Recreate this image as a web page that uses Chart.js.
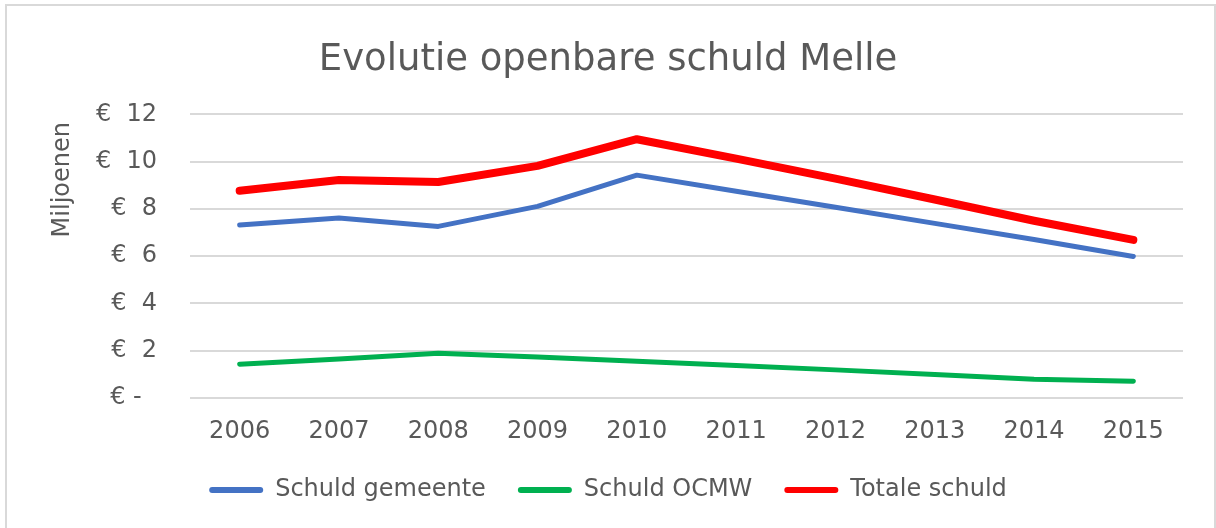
<!DOCTYPE html>
<html>
<head>
<meta charset="utf-8">
<script src="https://cdn.jsdelivr.net/npm/chart.js"></script>
<style>
    html, body { margin: 0; padding: 0; background: #fff; overflow: hidden; }
    #frame {
        position: absolute; left: 5px; top: 4px; width: 1207px; height: 540px;
        border: 2px solid #d9d9d9;
    }
    #wrap { position: absolute; left: 0; top: 0; width: 1216px; height: 528px; }
</style>
</head>
<body>
<div id="frame"></div>
<div id="wrap"><canvas id="chart" width="1216" height="528"></canvas></div>
<script>
// 데이터 (그림에서 읽은 값, 단위: 백만 €)
const years = ['2006', '2007', '2008', '2009', '2010', '2011', '2012', '2013', '2014', '2015'];
const schuldGemeente = [7.32, 7.62, 7.26, 8.11, 9.43, 8.75, 8.07, 7.39, 6.71, 5.99];
const schuldOcmw = [1.43, 1.65, 1.89, 1.73, 1.56, 1.37, 1.19, 0.99, 0.79, 0.71];
const totaleSchuld = [8.77, 9.22, 9.14, 9.82, 10.95, 10.13, 9.28, 8.40, 7.50, 6.69];
const yTicks = [0, 2, 4, 6, 8, 10, 12];

const textColor = '#595959';
const gridColor = '#d9d9d9';
const fontFamily = '"DejaVu Sans", Verdana, sans-serif';

const ctx = document.getElementById('chart').getContext('2d');
new Chart(ctx, {
    type: 'line',
    data: {
        labels: years,
        datasets: [
            { label: 'Schuld gemeente', data: schuldGemeente, borderColor: '#4472C4', backgroundColor: '#4472C4', borderWidth: 5 },
            { label: 'Schuld OCMW', data: schuldOcmw, borderColor: '#00B050', backgroundColor: '#00B050', borderWidth: 5 },
            { label: 'Totale schuld', data: totaleSchuld, borderColor: '#FF0000', backgroundColor: '#FF0000', borderWidth: 8 }
        ]
    },
    options: {
        responsive: false,
        animation: false,
        events: [],
        layout: { padding: { left: 0, right: 0, top: 0, bottom: 16 } },
        elements: {
            point: { radius: 0 },
            line: { tension: 0, borderCapStyle: 'round', borderJoinStyle: 'round' }
        },
        plugins: {
            title: {
                display: true,
                text: 'Evolutie openbare schuld Melle',
                color: textColor,
                font: { family: fontFamily, size: 37, weight: 'normal' },
                padding: { top: 38, bottom: 32 }
            },
            legend: {
                position: 'bottom',
                labels: {
                    color: textColor,
                    font: { family: fontFamily, size: 24 },
                    boxWidth: 54,
                    boxHeight: 6,
                    padding: 32,
                    useBorderRadius: true,
                    borderRadius: 3,
                    generateLabels: (chart) => {
                        const items = Chart.defaults.plugins.legend.labels.generateLabels(chart);
                        items.forEach(it => { it.fillStyle = it.strokeStyle; it.lineWidth = 0; });
                        return items;
                    }
                }
            },
            tooltip: { enabled: false }
        },
        scales: {
            x: {
                offset: true,
                grid: { display: false, drawTicks: false },
                border: { display: false },
                ticks: { color: textColor, font: { family: fontFamily, size: 24 }, padding: 19 },
                afterFit: (scale) => { scale.height = 48; }
            },
            y: {
                min: 0,
                max: 12,
                afterBuildTicks: (scale) => { scale.ticks = yTicks.map(v => ({ value: v })); },
                grid: { color: gridColor, lineWidth: 2, drawTicks: false },
                border: { display: false },
                ticks: {
                    color: textColor,
                    font: { family: fontFamily, size: 24 },
                    padding: 33,
                    callback: (v) => v === 0 ? '€ -  ' : '€  ' + v
                },
                title: {
                    display: true,
                    text: 'Miljoenen ',
                    align: 'end',
                    color: textColor,
                    font: { family: fontFamily, size: 24 },
                    padding: { top: 48, bottom: 0 }
                },
                afterFit: (scale) => { scale.width = 190; }
            },
            // 오른쪽 여백용 빈 축
            yRight: {
                position: 'right',
                grid: { display: false, drawTicks: false },
                border: { display: false },
                ticks: { display: false },
                afterFit: (scale) => { scale.width = 33; }
            }
        }
    }
});
</script>
</body>
</html>
